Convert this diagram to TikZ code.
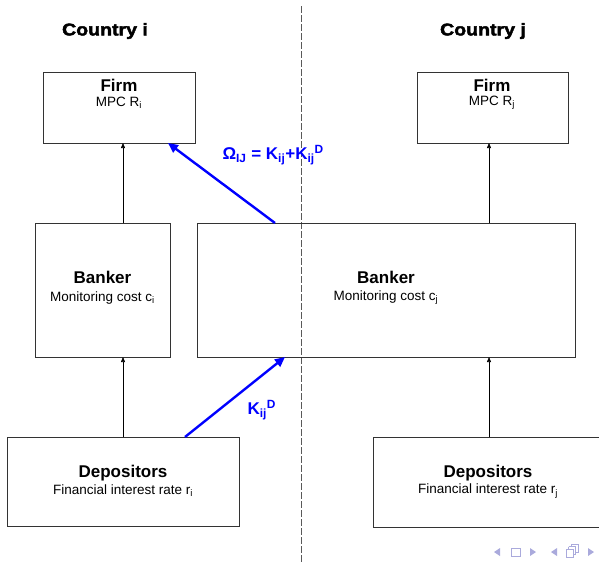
\documentclass[tikz,border=0pt]{standalone}
\usepackage{fontspec}
\setmainfont{Liberation Sans}
\newfontfamily\heavyfont[FakeBold=2.5,FakeStretch=1.15]{Liberation Sans Bold}
\usetikzlibrary{arrows.meta}
\definecolor{navc}{RGB}{170,170,220}
\begin{document}
\begin{tikzpicture}[x=1pt,y=-1pt,
  box/.style={draw=black!80,line width=0.8pt,inner sep=0pt},
  ttl/.style={font=\fontsize{17}{19}\selectfont\bfseries,inner sep=0.5pt},
  sub/.style={font=\fontsize{13.5}{15}\selectfont,inner sep=0.5pt},
  country/.style={font=\fontsize{17}{19}\selectfont\heavyfont},
  flow/.style={-{Triangle[length=5pt,width=4pt]},line width=0.6pt,black},
  blueflow/.style={-{Triangle[length=10pt,width=9pt]},line width=2.4pt,blue},
  bluelab/.style={blue,font=\fontsize{17}{19}\selectfont\bfseries},
  nav/.style={fill=navc,draw=none}]
\useasboundingbox (0,0) rectangle (599,563);
% divider
\draw[dash pattern=on 6.5pt off 2.5pt,line width=0.9pt,black!65] (301,6) -- (301,563);
% countries
\node[country] (ci) at (105,31) {Country i};
\node[country] (cj) at (483,31) {Country j};
% boxes
\node[box,minimum width=152pt,minimum height=71pt] (firmi) at (119,107.5) {};
\node[box,minimum width=151pt,minimum height=71pt] (firmj) at (492.5,107.5) {};
\node[box,minimum width=135pt,minimum height=134pt] (banki) at (102.5,290) {};
\node[box,minimum width=378pt,minimum height=134pt] (bankj) at (386,290) {};
\node[box,minimum width=232pt,minimum height=89pt] (depi) at (123,481.5) {};
\node[box,minimum width=226pt,minimum height=90pt] (depj) at (486,482) {};
% texts
\node[ttl] (tfi) at (119,85) {Firm};
\node[sub] (sfi) at (119,103) {MPC R\textsubscript{i}};
\node[ttl] (tfj) at (492,85) {Firm};
\node[sub] (sfj) at (492,103) {MPC R\textsubscript{j}};
\node[ttl] (tbi) at (102.5,277) {Banker};
\node[sub] (sbi) at (102.5,298) {Monitoring cost c\textsubscript{i}};
\node[ttl] (tbj) at (386,277) {Banker};
\node[sub] (sbj) at (386,298) {Monitoring cost c\textsubscript{j}};
\node[ttl] (tdi) at (123,473) {Depositors};
\node[sub] (sdi) at (123,491) {Financial interest rate r\textsubscript{i}};
\node[ttl] (tdj) at (488,473) {Depositors};
\node[sub] (sdj) at (488,491) {Financial interest rate r\textsubscript{j}};
% coordinates for connectors
\coordinate (a1) at (123,223);
\coordinate (a2) at (123,143);
\coordinate (b1) at (489,223);
\coordinate (b2) at (489,143);
\coordinate (c1) at (123,437);
\coordinate (c2) at (123,357);
\coordinate (d1) at (489,437);
\coordinate (d2) at (489,357);
\coordinate (e1) at (185,437);
\coordinate (e2) at (285,357);
\coordinate (f1) at (275,223);
\coordinate (f2) at (168,143);
\draw[flow] (a1) -- (a2);
\draw[flow] (b1) -- (b2);
\draw[flow] (c1) -- (c2);
\draw[flow] (d1) -- (d2);
\draw[blueflow] (e1) -- (e2);
\draw[blueflow] (f1) -- (f2);
% labels
\node[bluelab,anchor=west] (lk) at (244,410) {K\textsubscript{ij}\textsuperscript{D}};
\node[bluelab,anchor=west] (lo) at (219,155) {\char"03A9\textsubscript{IJ} = K\textsubscript{ij}+K\textsubscript{ij}\textsuperscript{D}};
% navigation symbols
\fill[nav] (494,552) -- (500,548) -- (500,556) -- cycle;
\draw[navc,line width=1pt] (511,548) rectangle (520,556);
\fill[nav] (536,552) -- (530,548) -- (530,556) -- cycle;
\fill[nav] (551,552) -- (557,548) -- (557,556) -- cycle;
\draw[navc,line width=0.9pt] (566,549) rectangle (573,557);
\draw[navc,line width=0.9pt] (568.5,546.5) -- (568.5,549) (568.5,546.5) -- (575.5,546.5) -- (575.5,554.5) -- (573,554.5);
\draw[navc,line width=0.9pt] (571,544) -- (578,544) -- (578,552) -- (575.5,552) (571,544) -- (571,546.5);
\fill[nav] (594,552) -- (588,548) -- (588,556) -- cycle;
\end{tikzpicture}
\end{document}
